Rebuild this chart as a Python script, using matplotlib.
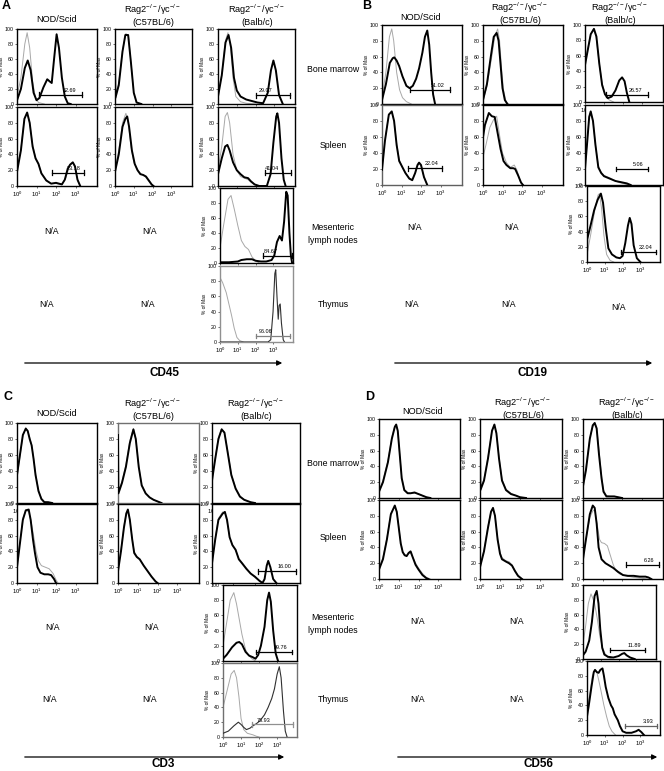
import matplotlib
matplotlib.use("Agg")
import matplotlib.pyplot as plt
import numpy as np

plt.rcParams['font.family'] = ['Liberation Sans', 'DejaVu Sans']
plt.rcParams['mathtext.fontset'] = 'custom'
plt.rcParams['mathtext.rm'] = 'Liberation Sans'
plt.rcParams['mathtext.it'] = 'Liberation Sans:italic'
plt.rcParams['mathtext.bf'] = 'Liberation Sans:bold'

W, H = 664, 771

# ---------------- labels ----------------
col_titles = ["NOD/Scid", "Rag2$^{-/-}$/γc$^{-/-}$\n(C57BL/6)", "Rag2$^{-/-}$/γc$^{-/-}$\n(Balb/c)"]
row_labels = ["Bone marrow", "Spleen", "Mesenteric\nlymph nodes", "Thymus"]
markers = ["CD45", "CD19", "CD3", "CD56"]
panel_letters = ["A", "B", "C", "D"]
x_tick_labels = ["10$^0$", "10$^1$", "10$^2$", "10$^3$"]
y_ticks = [0, 20, 40, 60, 80, 100]

# ---------------- data: (log10 fluorescence, % of max) ----------------
# Panel A  (CD45)
a_bm_nod_ctrl = [(0,10),(0.2,35),(0.4,80),(0.52,95),(0.65,75),(0.8,30),(0.95,8),(1.1,2),(1.4,0)]
a_bm_nod_smp = [(0,5),(0.2,20),(0.4,48),(0.55,58),(0.7,45),(0.85,15),(1.0,5),(1.15,8),(1.35,22),(1.55,33),(1.68,30),(1.78,28),(1.9,60),(2.03,93),(2.15,75),(2.3,35),(2.45,10),(2.6,1),(2.75,0)]
a_bm_nod_gate = (1.14, 3.33, 12.5, "62.69")
a_bm_b6_ctrl = [(0,55),(0.02,10),(0.2,28),(0.4,72),(0.58,94),(0.72,90),(0.87,50),(1.0,14),(1.15,2),(1.4,0)]
a_bm_b6_smp = [(0,60),(0.02,8),(0.2,25),(0.4,70),(0.55,92),(0.7,92),(0.85,55),(1.0,15),(1.15,2),(1.4,0)]
a_bm_balb_ctrl = [(0,12),(0.2,40),(0.4,85),(0.53,95),(0.65,80),(0.8,35),(0.95,10),(1.2,3),(1.5,1),(2,0)]
a_bm_balb_smp = [(0,10),(0.2,38),(0.4,82),(0.56,92),(0.7,75),(0.85,35),(1.0,18),(1.2,10),(1.5,6),(1.8,4),(2.1,2),(2.4,1),(2.65,15),(2.82,45),(2.95,58),(3.08,45),(3.25,12),(3.45,0)]
a_bm_balb_gate = (2.0, 3.86, 11.5, "29.07")
a_sp_nod_ctrl = [(0,20),(0.2,47),(0.38,86),(0.52,92),(0.65,80),(0.8,52),(0.95,36),(1.1,28),(1.25,16),(1.5,7),(1.75,3),(2.0,3),(2.3,2),(2.5,10),(2.7,26),(2.86,29),(3.0,22),(3.12,6),(3.24,0)]
a_sp_nod_smp = [(0,18),(0.2,45),(0.38,85),(0.52,93),(0.65,80),(0.8,50),(0.95,35),(1.1,28),(1.25,16),(1.5,7),(1.75,3),(2.0,4),(2.15,3),(2.3,2),(2.45,8),(2.6,22),(2.72,27),(2.86,30),(2.97,25),(3.1,8),(3.24,0)]
a_sp_nod_gate = (1.78, 3.41, 17, "23.18")
a_sp_b6_ctrl = [(0,20),(0.2,45),(0.4,80),(0.58,92),(0.7,82),(0.85,50),(1.0,30),(1.2,20),(1.4,15),(1.6,12),(1.8,6),(2.0,0)]
a_sp_b6_smp = [(0,18),(0.2,40),(0.4,75),(0.55,85),(0.65,88),(0.75,75),(0.9,45),(1.05,28),(1.2,20),(1.35,15),(1.5,14),(1.65,12),(1.8,7),(1.95,2),(2.05,0)]
a_sp_balb_ctrl = [(0,20),(0.2,50),(0.38,88),(0.5,93),(0.62,80),(0.8,40),(1.0,20),(1.2,12),(1.4,10),(1.6,8),(1.8,4),(2.0,1),(2.3,0)]
a_sp_balb_smp = [(0,15),(0.2,35),(0.38,50),(0.5,52),(0.62,45),(0.8,30),(1.0,20),(1.2,15),(1.4,11),(1.6,10),(1.75,6),(1.95,2),(2.2,0),(2.6,0),(2.8,15),(2.95,55),(3.1,88),(3.16,92),(3.25,80),(3.38,35),(3.5,8),(3.6,0)]
a_sp_balb_gate = (2.5, 3.9, 17, "41.04")
a_mln_balb_ctrl = [(0,20),(0.2,50),(0.45,85),(0.62,90),(0.8,72),(1.0,50),(1.2,30),(1.4,22),(1.6,18),(1.8,8),(2.0,3),(2.2,0)]
a_mln_balb_smp = [(0,1),(0.5,1),(1.0,2),(1.2,4),(1.5,5),(1.8,5),(2.0,3),(2.3,2),(2.6,2),(2.9,4),(3.05,10),(3.2,28),(3.35,36),(3.48,30),(3.6,55),(3.72,95),(3.8,90),(3.9,40),(3.98,10),(4.05,0)]
a_mln_balb_gate = (2.42, 4.05, 10, "84.67")
a_thy_balb_ctrl = [(0,85),(0.15,78),(0.35,65),(0.5,50),(0.65,35),(0.8,18),(0.95,6),(1.1,2),(1.3,0)]
a_thy_balb_smp = [(0,0),(2.7,0),(2.85,3),(2.98,40),(3.08,90),(3.13,95),(3.2,60),(3.27,30),(3.32,48),(3.38,50),(3.45,25),(3.55,3),(3.62,0)]
a_thy_balb_gate = (2.04, 3.95, 8, "96.06")

# Panel B  (CD19)
b_bm_nod_ctrl = [(0,8),(0.2,40),(0.38,85),(0.5,95),(0.6,80),(0.75,40),(0.9,18),(1.05,8),(1.25,3),(1.5,0)]
b_bm_nod_smp = [(0,5),(0.2,25),(0.4,52),(0.55,58),(0.63,59),(0.75,55),(0.88,48),(1.05,35),(1.25,23),(1.42,20),(1.58,23),(1.75,32),(1.9,45),(2.07,65),(2.2,85),(2.32,93),(2.42,75),(2.52,40),(2.62,12),(2.72,0)]
b_bm_nod_gate = (1.44, 3.46, 18, "51.02")
b_bm_b6_ctrl = [(0,4),(0.2,22),(0.45,60),(0.6,85),(0.75,95),(0.85,80),(0.95,45),(1.05,18),(1.18,3),(1.3,0)]
b_bm_b6_smp = [(0,5),(0.2,25),(0.4,60),(0.55,85),(0.7,90),(0.8,80),(0.9,50),(1.0,20),(1.12,5),(1.25,0)]
b_bm_balb_ctrl = [(0,50),(0.15,70),(0.3,88),(0.45,95),(0.58,85),(0.75,50),(0.9,25),(1.05,10),(1.25,3),(1.5,0)]
b_bm_balb_smp = [(0,48),(0.15,68),(0.3,88),(0.47,95),(0.6,85),(0.75,50),(0.9,22),(1.05,10),(1.2,5),(1.4,7),(1.6,15),(1.8,28),(1.95,32),(2.08,27),(2.2,12),(2.33,0)]
b_bm_balb_gate = (1.12, 3.3, 9.5, "26.57")
b_sp_nod_ctrl = [(0,20),(0.15,56),(0.35,88),(0.5,91),(0.62,80),(0.75,52),(0.88,32),(1.05,22),(1.2,15),(1.4,8),(1.55,7),(1.7,15),(1.82,24),(1.9,27),(2.0,24),(2.15,10),(2.32,0)]
b_sp_nod_smp = [(0,19),(0.15,55),(0.35,88),(0.5,92),(0.62,80),(0.75,50),(0.88,30),(1.05,22),(1.2,15),(1.4,8),(1.55,6),(1.7,15),(1.82,25),(1.9,28),(2.0,25),(2.15,10),(2.32,0)]
b_sp_nod_gate = (1.34, 3.05, 21, "22.04")
b_sp_b6_ctrl = [(0,35),(0.15,50),(0.35,72),(0.55,82),(0.7,86),(0.85,62),(1.0,40),(1.2,28),(1.4,22),(1.6,25),(1.75,18),(1.9,5),(2.05,0)]
b_sp_b6_smp = [(0,60),(0.1,75),(0.3,90),(0.45,86),(0.6,85),(0.75,65),(0.9,45),(1.05,30),(1.2,25),(1.4,21),(1.55,21),(1.65,20),(1.8,12),(1.95,3),(2.05,0)]
b_sp_balb_ctrl = [(0,22),(0.12,56),(0.22,86),(0.3,91),(0.42,80),(0.55,50),(0.7,24),(0.85,16),(1.0,12),(1.3,9),(1.6,5),(1.8,3),(2.0,2),(2.3,0)]
b_sp_balb_smp = [(0,20),(0.12,55),(0.22,85),(0.3,92),(0.42,80),(0.55,50),(0.7,22),(0.85,15),(1.0,11),(1.3,8),(1.6,5),(1.8,4),(2.0,3),(2.2,2),(2.4,0)]
b_sp_balb_gate = (1.64, 3.3, 20, "5.06")
b_mln_balb_ctrl = [(0,10),(0.2,35),(0.45,70),(0.62,88),(0.7,90),(0.82,70),(0.95,35),(1.1,10),(1.3,2),(1.5,0)]
b_mln_balb_smp = [(0,0),(0.01,30),(0.2,48),(0.4,68),(0.6,82),(0.78,90),(0.9,78),(1.05,45),(1.2,18),(1.4,10),(1.65,6),(1.85,5),(2.0,8),(2.15,25),(2.3,48),(2.4,58),(2.5,50),(2.62,22),(2.8,5),(3.0,0)]
b_mln_balb_gate = (1.9, 3.85, 13, "22.04")

# Panel C  (CD3)
c_bm_nod_ctrl = [(0,33),(0.15,58),(0.3,84),(0.45,94),(0.55,90),(0.65,82),(0.75,73),(0.85,56),(0.95,37),(1.1,16),(1.25,6),(1.4,2),(1.6,1),(1.8,0)]
c_bm_nod_smp = [(0,35),(0.15,60),(0.3,85),(0.45,93),(0.55,90),(0.65,80),(0.75,72),(0.85,55),(0.95,35),(1.1,15),(1.25,5),(1.4,1),(1.6,1),(1.8,0)]
c_bm_b6_ctrl = [(0,80),(0.02,14),(0.2,27),(0.4,48),(0.6,78),(0.78,93),(0.9,80),(1.05,46),(1.2,23),(1.4,12),(1.6,7),(1.8,4),(2.0,2),(2.2,0)]
c_bm_b6_smp = [(0,85),(0.02,12),(0.2,25),(0.4,45),(0.6,75),(0.78,92),(0.9,80),(1.05,45),(1.2,22),(1.4,12),(1.6,7),(1.8,4),(2.0,2),(2.2,0)]
c_bm_balb_ctrl = [(0,30),(0.15,57),(0.3,82),(0.45,93),(0.58,88),(0.75,62),(0.9,36),(1.1,19),(1.3,9),(1.5,4),(1.8,1),(2.0,0)]
c_bm_balb_smp = [(0,28),(0.15,55),(0.3,80),(0.45,92),(0.58,88),(0.75,60),(0.9,35),(1.1,18),(1.3,8),(1.5,4),(1.8,1),(2.0,0)]
c_sp_nod_ctrl = [(0,22),(0.15,52),(0.3,82),(0.45,92),(0.6,90),(0.72,78),(0.85,60),(0.98,40),(1.1,28),(1.25,22),(1.45,20),(1.65,18),(1.85,12),(2.0,4),(2.1,0)]
c_sp_nod_smp = [(0,20),(0.15,50),(0.3,80),(0.45,92),(0.6,93),(0.7,80),(0.82,55),(0.92,38),(1.05,20),(1.2,13),(1.4,11),(1.6,11),(1.75,10),(1.9,5),(2.0,0)]
c_sp_b6_ctrl = [(0,16),(0.15,42),(0.3,72),(0.42,89),(0.5,92),(0.6,80),(0.72,56),(0.82,40),(0.95,34),(1.1,30),(1.3,22),(1.5,15),(1.7,8),(1.9,2),(2.0,0)]
c_sp_b6_smp = [(0,15),(0.15,40),(0.3,70),(0.42,88),(0.5,93),(0.6,80),(0.72,55),(0.82,38),(0.95,33),(1.1,30),(1.3,22),(1.5,15),(1.7,8),(1.9,2),(2.0,0)]
c_sp_balb_ctrl = [(0,27),(0.15,57),(0.3,82),(0.5,90),(0.6,88),(0.7,78),(0.82,58),(0.95,48),(1.1,42),(1.25,31),(1.4,26),(1.6,19),(1.8,12),(2.0,7),(2.2,3),(2.4,0)]
c_sp_balb_smp = [(0,25),(0.15,55),(0.3,80),(0.5,88),(0.6,90),(0.7,80),(0.82,58),(0.95,48),(1.1,42),(1.25,30),(1.4,25),(1.6,18),(1.8,12),(2.0,8),(2.2,3),(2.35,0),(2.45,5),(2.55,22),(2.62,28),(2.72,20),(2.85,5),(3.0,0)]
c_sp_balb_gate = (2.15, 3.9, 15, "16.00")
c_mln_balb_ctrl = [(0,20),(0.2,50),(0.4,80),(0.6,90),(0.75,75),(0.9,55),(1.05,35),(1.25,15),(1.4,8),(1.6,3),(1.8,0)]
c_mln_balb_smp = [(0,3),(0.2,8),(0.5,18),(0.75,24),(0.9,25),(1.05,22),(1.25,12),(1.45,7),(1.65,5),(1.8,3),(1.95,8),(2.1,20),(2.3,45),(2.45,80),(2.55,90),(2.65,78),(2.78,40),(2.92,10),(3.05,0)]
c_mln_balb_gate = (1.85, 3.8, 12, "59.76")
c_thy_balb_ctrl = [(0,40),(0.2,60),(0.45,85),(0.62,90),(0.75,80),(0.88,55),(1.0,25),(1.15,10),(1.35,5),(1.65,3),(1.85,1),(2.0,0)]
c_thy_balb_smp = [(0,5),(0.3,8),(0.6,15),(0.85,20),(1.0,17),(1.15,13),(1.3,10),(1.5,12),(1.65,15),(1.85,18),(2.05,22),(2.3,30),(2.5,40),(2.7,52),(2.85,65),(3.0,85),(3.12,95),(3.22,80),(3.35,35),(3.45,8),(3.55,0)]
c_thy_balb_gate = (1.6, 3.9, 17, "75.93")

# Panel D  (CD56)
d_bm_nod_ctrl = [(0,9),(0.2,22),(0.45,47),(0.65,77),(0.8,91),(0.87,92),(0.95,84),(1.05,55),(1.15,26),(1.28,11),(1.45,7),(1.6,6),(1.8,6),(2.0,5),(2.2,3),(2.4,1),(2.6,0)]
d_bm_nod_smp = [(0,8),(0.2,20),(0.45,45),(0.65,75),(0.8,90),(0.87,93),(0.95,85),(1.05,55),(1.15,25),(1.28,10),(1.45,6),(1.6,6),(1.8,7),(2.0,5),(2.2,3),(2.4,1),(2.6,0)]
d_bm_b6_ctrl = [(0,60),(0.02,12),(0.2,24),(0.4,52),(0.6,86),(0.72,92),(0.82,82),(0.95,52),(1.1,24),(1.3,11),(1.55,6),(1.8,3),(2.0,1),(2.3,0)]
d_bm_b6_smp = [(0,65),(0.02,10),(0.2,22),(0.4,50),(0.6,85),(0.72,93),(0.82,82),(0.95,50),(1.1,22),(1.3,10),(1.55,5),(1.8,3),(2.0,1),(2.3,0)]
d_bm_balb_ctrl = [(0,18),(0.15,38),(0.35,76),(0.5,90),(0.6,94),(0.7,90),(0.82,60),(0.95,28),(1.05,10),(1.2,3),(1.4,2),(1.6,2),(1.8,1),(2.0,0)]
d_bm_balb_smp = [(0,15),(0.15,35),(0.35,75),(0.5,92),(0.6,95),(0.7,88),(0.82,55),(0.95,25),(1.05,8),(1.2,2),(1.4,2),(1.6,2),(1.8,1),(2.0,0)]
d_sp_nod_ctrl = [(0,13),(0.2,27),(0.4,52),(0.6,83),(0.8,92),(0.9,85),(1.0,66),(1.1,46),(1.2,35),(1.3,31),(1.4,30),(1.5,32),(1.6,33),(1.7,28),(1.85,20),(2.0,14),(2.2,7),(2.4,2),(2.6,0)]
d_sp_nod_smp = [(0,12),(0.2,25),(0.4,50),(0.6,82),(0.8,93),(0.9,85),(1.0,65),(1.1,45),(1.2,34),(1.3,30),(1.4,29),(1.5,33),(1.6,35),(1.7,28),(1.85,18),(2.0,12),(2.2,5),(2.4,1),(2.5,0)]
d_sp_b6_ctrl = [(0,16),(0.2,37),(0.4,67),(0.55,86),(0.65,89),(0.75,80),(0.88,52),(1.0,34),(1.1,27),(1.3,23),(1.45,22),(1.6,18),(1.75,11),(1.9,5),(2.1,0)]
d_sp_b6_smp = [(0,15),(0.2,35),(0.4,65),(0.55,85),(0.65,90),(0.75,80),(0.88,50),(1.0,32),(1.1,25),(1.3,22),(1.45,20),(1.6,17),(1.75,10),(1.9,4),(2.1,0)]
d_sp_balb_ctrl = [(0,28),(0.15,50),(0.35,78),(0.5,86),(0.6,88),(0.72,70),(0.85,50),(0.95,46),(1.1,45),(1.25,42),(1.4,30),(1.55,18),(1.7,10),(1.9,6),(2.2,4),(2.6,2),(3.0,1),(3.3,0)]
d_sp_balb_smp = [(0,25),(0.15,50),(0.35,82),(0.5,93),(0.6,90),(0.7,70),(0.8,40),(0.95,25),(1.15,20),(1.35,17),(1.55,14),(1.8,9),(2.05,5),(2.3,4),(2.6,4),(2.9,3),(3.2,3),(3.35,2),(3.5,0)]
d_sp_balb_gate = (2.2, 3.9, 18, "6.26")
d_mln_balb_ctrl = [(0,20),(0.15,45),(0.3,75),(0.45,88),(0.55,82),(0.65,75),(0.8,55),(0.95,30),(1.1,15),(1.25,7),(1.4,2),(1.6,0)]
d_mln_balb_smp = [(0,5),(0.15,10),(0.35,25),(0.5,50),(0.65,85),(0.77,92),(0.87,75),(0.97,40),(1.08,15),(1.2,6),(1.4,3),(1.7,2),(2.0,4),(2.2,7),(2.32,8),(2.45,5),(2.65,2),(2.9,0)]
d_mln_balb_gate = (1.5, 3.5, 12, "11.89")
d_thy_balb_ctrl = [(0,30),(0.15,55),(0.3,80),(0.45,88),(0.55,85),(0.65,75),(0.8,58),(0.95,40),(1.1,25),(1.25,12),(1.4,5),(1.6,0)]
d_thy_balb_smp = [(0,25),(0.1,40),(0.25,65),(0.38,85),(0.45,88),(0.55,85),(0.65,84),(0.75,88),(0.87,90),(0.95,80),(1.05,65),(1.2,50),(1.35,40),(1.45,36),(1.55,28),(1.73,20),(1.85,12),(2.0,5),(2.2,3),(2.5,3),(2.75,5),(2.9,7),(3.05,4),(3.2,0)]
d_thy_balb_gate = (2.15, 3.95, 12, "3.93")

# ---------------- drawing ----------------
fig = plt.figure(figsize=(W / 100, H / 100), dpi=100)
fig.patch.set_facecolor("white")


def rect(x0, y0, x1, y1):
    return [x0 / W, 1 - y1 / H, (x1 - x0) / W, (y1 - y0) / H]


def ftext(x, y, s, **kw):
    fig.text(x / W, 1 - y / H, s, **kw)


def hist(box, smp, ctrl, gate=None, xlab=False, frame="black",
         thin=False, gate_color="black", label_left=False):
    ax = fig.add_axes(rect(*box))
    ax.set_xlim(0, 4.1)
    ax.set_ylim(0, 100)
    cx, cy = zip(*ctrl)
    ax.plot(cx, cy, color="#a8a8a8", lw=0.7, zorder=2, clip_on=True)
    sx, sy = zip(*smp)
    if thin:
        ax.plot(sx, sy, color="#303030", lw=0.8, zorder=3)
    else:
        ax.plot(sx, sy, color="black", lw=1.4, zorder=3)
    if gate is not None:
        g0, g1, gy, glab = gate
        ax.plot([g0, g1], [gy, gy], color=gate_color, lw=0.9, zorder=4)
        for gx in (g0, g1):
            ax.plot([gx, gx], [gy - 3, gy + 3], color=gate_color, lw=0.9, zorder=4)
        lx = g0 + 0.28 * (g1 - g0) if label_left else g1 - 0.3 * (g1 - g0)
        ax.text(lx, gy + 2.5, glab, fontsize=4, ha="center", va="bottom")
    for s in ax.spines.values():
        s.set_color(frame)
        s.set_linewidth(1.0)
    ax.set_yticks(y_ticks)
    ax.set_yticklabels([str(v) for v in y_ticks], fontsize=3.8)
    ax.set_xticks([0, 1, 2, 3])
    minors = [d + np.log10(k) for d in range(4) for k in range(2, 10) if d + np.log10(k) < 4.1]
    ax.set_xticks(minors, minor=True)
    if xlab:
        ax.set_xticklabels(x_tick_labels, fontsize=4.2)
    else:
        ax.set_xticklabels([])
    ax.tick_params(axis="both", which="major", length=1.5, width=0.4, pad=1)
    ax.tick_params(axis="x", which="minor", length=0.8, width=0.3)
    ax.set_ylabel("% of Max", fontsize=3.5, labelpad=0.5)
    return ax


# ---- Panel A ----
hist((17, 29, 97, 104), a_bm_nod_smp, a_bm_nod_ctrl, a_bm_nod_gate)
hist((17, 107, 97, 186), a_sp_nod_smp, a_sp_nod_ctrl, a_sp_nod_gate, xlab=True)
hist((115, 29, 192, 104), a_bm_b6_smp, a_bm_b6_ctrl)
hist((115, 107, 192, 186), a_sp_b6_smp, a_sp_b6_ctrl, xlab=True)
hist((218, 29, 295, 104), a_bm_balb_smp, a_bm_balb_ctrl, a_bm_balb_gate, label_left=True)
hist((218, 107, 295, 186), a_sp_balb_smp, a_sp_balb_ctrl, a_sp_balb_gate, label_left=True)
hist((220, 188, 293, 263), a_mln_balb_smp, a_mln_balb_ctrl, a_mln_balb_gate, label_left=True)
hist((220, 266, 293, 342), a_thy_balb_smp, a_thy_balb_ctrl, a_thy_balb_gate, xlab=True,
     frame="#909090", thin=True, gate_color="#808080", label_left=True)

# ---- Panel B ----
hist((382, 25, 462, 104), b_bm_nod_smp, b_bm_nod_ctrl, b_bm_nod_gate)
hist((382, 105, 462, 185), b_sp_nod_smp, b_sp_nod_ctrl, b_sp_nod_gate, xlab=True, frame="#606060")
hist((483, 25, 563, 104), b_bm_b6_smp, b_bm_b6_ctrl)
hist((483, 105, 563, 185), b_sp_b6_smp, b_sp_b6_ctrl, xlab=True)
hist((585, 25, 663, 102), b_bm_balb_smp, b_bm_balb_ctrl, b_bm_balb_gate, xlab=True)
hist((585, 105, 663, 185), b_sp_balb_smp, b_sp_balb_ctrl, b_sp_balb_gate)
hist((587, 186, 660, 262), b_mln_balb_smp, b_mln_balb_ctrl, b_mln_balb_gate, xlab=True)

# ---- Panel C ----
hist((17, 423, 97, 503), c_bm_nod_smp, c_bm_nod_ctrl, xlab=True)
hist((17, 504, 97, 583), c_sp_nod_smp, c_sp_nod_ctrl, xlab=True)
hist((118, 423, 199, 503), c_bm_b6_smp, c_bm_b6_ctrl, frame="#707070")
hist((118, 504, 199, 583), c_sp_b6_smp, c_sp_b6_ctrl, xlab=True)
hist((212, 423, 300, 503), c_bm_balb_smp, c_bm_balb_ctrl, xlab=True)
hist((212, 504, 300, 583), c_sp_balb_smp, c_sp_balb_ctrl, c_sp_balb_gate)
hist((223, 585, 297, 661), c_mln_balb_smp, c_mln_balb_ctrl, c_mln_balb_gate)
hist((223, 663, 297, 737), c_thy_balb_smp, c_thy_balb_ctrl, c_thy_balb_gate, xlab=True,
     frame="#707070", thin=True, gate_color="#909090", label_left=True)

# ---- Panel D ----
hist((379, 419, 460, 498), d_bm_nod_smp, d_bm_nod_ctrl)
hist((379, 500, 460, 579), d_sp_nod_smp, d_sp_nod_ctrl, xlab=True)
hist((480, 419, 562, 498), d_bm_b6_smp, d_bm_b6_ctrl)
hist((480, 500, 562, 579), d_sp_b6_smp, d_sp_b6_ctrl, xlab=True)
hist((583, 419, 663, 498), d_bm_balb_smp, d_bm_balb_ctrl)
hist((583, 500, 663, 579), d_sp_balb_smp, d_sp_balb_ctrl, d_sp_balb_gate)
hist((583, 585, 656, 659), d_mln_balb_smp, d_mln_balb_ctrl, d_mln_balb_gate)
hist((587, 661, 660, 735), d_thy_balb_smp, d_thy_balb_ctrl, d_thy_balb_gate, xlab=True,
     gate_color="#606060")

# ---- headers ----
title_kw = dict(fontsize=6.6, ha="center", va="center", linespacing=1.15)
col_x = [[57, 153, 257], [421, 520, 620], [57, 153, 256], [423, 523, 627]]
title_y = [15, 13, 409, 408]
for p in range(4):
    ftext(col_x[p][0], title_y[p] + 4, col_titles[0], **title_kw)
    ftext(col_x[p][1], title_y[p], col_titles[1], **title_kw)
    ftext(col_x[p][2], title_y[p], col_titles[2], **title_kw)

letter_pos = [(2, 6), (362, 6), (3, 397), (365, 397)]
for L, (lx, ly) in zip(panel_letters, letter_pos):
    ftext(lx, ly, L, fontsize=9, fontweight="bold", ha="left", va="center")

# row labels
row_y_top = [70, 145, 234, 305]
row_y_bot = [463, 538, 624, 700]
for lab, yt, yb in zip(row_labels, row_y_top, row_y_bot):
    ftext(333, yt, lab, fontsize=6.3, ha="center", va="center", linespacing=1.5)
    ftext(333, yb, lab, fontsize=6.3, ha="center", va="center", linespacing=1.5)

# N/A placeholders
na_kw = dict(fontsize=6.3, ha="center", va="center")
for (x, y) in [(52, 232), (150, 232), (47, 305), (148, 305),
               (415, 227), (512, 227), (412, 305), (509, 305), (619, 308),
               (53, 627), (152, 627), (50, 700), (150, 700),
               (418, 622), (517, 622), (418, 699), (517, 699)]:
    ftext(x, y, "N/A", **na_kw)

# marker arrows
arrows = [(22, 285, 363, 165, 373), (392, 655, 363, 533, 373),
          (22, 287, 757, 163, 764), (395, 660, 757, 538, 764)]
for m, (xa, xb, ya, xl, yl) in zip(markers, arrows):
    fig.add_artist(matplotlib.patches.FancyArrowPatch(
        (xa / W, 1 - ya / H), (xb / W, 1 - ya / H), transform=fig.transFigure,
        arrowstyle="-|>,head_length=3,head_width=1.5", lw=0.9, color="black", mutation_scale=1))
    ftext(xl, yl, m, fontsize=8.5, fontweight="bold", ha="center", va="center")

fig.savefig("out.png", dpi=100)
